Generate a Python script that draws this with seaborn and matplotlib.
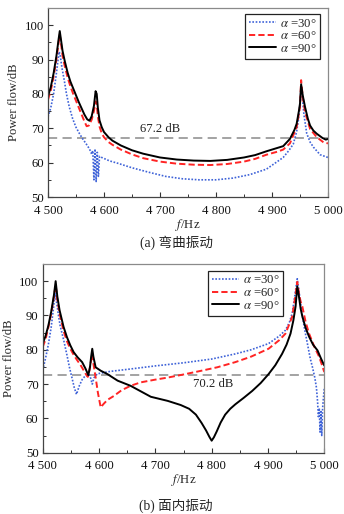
import numpy as np
import pandas as pd
import matplotlib
matplotlib.use("Agg")
import matplotlib.pyplot as plt
import seaborn as sns
from matplotlib.ticker import MultipleLocator, FuncFormatter

# ---------------- data ----------------
labels = ["$\\alpha$ =30°", "$\\alpha$ =60°", "$\\alpha$ =90°"]

# (a) bending vibration
a30_f = [4500, 4505, 4510, 4515, 4518, 4520, 4522, 4525, 4529, 4533, 4538, 4544, 4550, 4556,
         4562, 4568, 4574, 4578, 4580, 4582, 4584, 4586, 4588, 4590, 4592, 4596, 4610, 4625,
         4650, 4680, 4710, 4740, 4770, 4800, 4830, 4860, 4890, 4905, 4920, 4930, 4938, 4944,
         4947, 4950, 4952, 4954, 4957, 4962, 4968, 4974, 4986, 5000]
a30_v = [73.3, 76.0, 80.0, 86.0, 90.0, 92.3, 91.0, 87.5, 84.0, 80.0, 76.2, 72.8, 70.3, 68.5,
         66.9, 65.5, 64.0, 62.5, 63.5, 55.0, 64.0, 54.5, 63.0, 56.0, 61.8, 61.5, 60.5, 59.8,
         58.5, 57.2, 56.0, 55.3, 55.0, 55.0, 55.5, 56.5, 58.1, 59.8, 61.5, 63.5, 65.4, 69.0,
         72.3, 77.0, 82.0, 79.5, 74.0, 68.5, 66.0, 64.5, 62.3, 61.5]

a60_f = [4500, 4505, 4510, 4515, 4519, 4521, 4523, 4526, 4530, 4535, 4540, 4545, 4550, 4555,
         4560, 4565, 4569, 4573, 4578, 4582, 4585, 4587, 4589, 4592, 4596, 4600, 4608, 4615,
         4630, 4650, 4670, 4700, 4730, 4760, 4790, 4820, 4850, 4870, 4890, 4910, 4920, 4932,
         4944, 4950, 4952, 4955, 4959, 4968, 4980, 4992, 5000]
a60_v = [78.3, 81.0, 85.0, 90.0, 95.0, 97.2, 95.0, 91.0, 88.0, 84.8, 82.2, 80.0, 78.0, 76.0,
         74.0, 72.0, 70.6, 70.8, 72.5, 75.0, 77.8, 77.0, 73.5, 70.5, 68.5, 67.4, 66.0, 65.2,
         63.8, 62.4, 61.3, 60.3, 59.7, 59.4, 59.3, 59.6, 60.3, 61.1, 62.3, 63.2, 63.8, 65.6,
         70.3, 76.2, 84.0, 79.0, 74.7, 69.8, 67.4, 65.9, 65.6]

a90_f = [4500, 4505, 4510, 4515, 4519, 4521, 4523, 4526, 4530, 4535, 4540, 4545, 4550, 4555,
         4560, 4565, 4570, 4574, 4578, 4582, 4585, 4587, 4589, 4592, 4596, 4600, 4608, 4615,
         4630, 4650, 4670, 4700, 4730, 4760, 4790, 4820, 4850, 4870, 4890, 4900, 4920, 4932,
         4940, 4944, 4948, 4950, 4952, 4955, 4959, 4964, 4968, 4974, 4980, 4990, 4996, 5000]
a90_v = [79.3, 82.0, 86.0, 91.0, 96.0, 98.3, 96.0, 92.5, 89.5, 86.2, 83.6, 81.6, 79.6, 77.6,
         75.8, 74.0, 72.6, 72.2, 73.5, 76.5, 80.8, 80.0, 76.0, 72.3, 70.3, 68.9, 67.4, 66.4,
         65.0, 63.6, 62.6, 61.5, 60.9, 60.6, 60.5, 60.8, 61.5, 62.2, 63.3, 63.8, 64.8, 66.9,
         69.5, 71.3, 75.0, 77.2, 82.8, 79.5, 76.2, 72.8, 70.8, 69.3, 68.4, 67.2, 66.7, 66.9]

# (b) in-plane vibration
b30_f = [4500, 4505, 4510, 4515, 4519, 4522, 4525, 4528, 4531, 4537, 4543, 4548, 4552, 4556,
         4560, 4565, 4570, 4575, 4582, 4585, 4588, 4591, 4597, 4620, 4656, 4700, 4750, 4800,
         4842, 4870, 4901, 4920, 4931, 4938, 4943, 4947, 4950, 4952, 4955, 4958, 4961, 4965,
         4970, 4975, 4979, 4983, 4986, 4988, 4989.5, 4991, 4992.5, 4994, 4995.5, 4997, 5000]
b30_v = [74.0, 77.5, 81.5, 86.5, 92.0, 96.5, 93.5, 90.0, 87.0, 83.0, 78.5, 74.5, 71.8, 69.0,
         67.0, 69.5, 71.3, 72.3, 72.9, 71.8, 70.0, 71.8, 73.0, 73.7, 74.4, 75.3, 76.2, 77.3,
         78.8, 80.0, 81.8, 84.0, 85.7, 88.0, 90.6, 95.0, 98.5, 100.7, 97.0, 93.5, 90.0, 86.0,
         81.8, 77.5, 74.9, 72.0, 69.0, 65.0, 60.5, 63.0, 56.0, 62.0, 55.0, 63.0, 69.0]

b60_f = [4500, 4505, 4510, 4515, 4520, 4523, 4526, 4530, 4537, 4543, 4549, 4555, 4561, 4567,
         4572, 4577, 4580, 4583, 4586, 4588, 4590, 4594, 4598, 4603, 4608, 4615, 4626, 4640,
         4656, 4674, 4700, 4722, 4750, 4782, 4810, 4842, 4870, 4901, 4920, 4931, 4938, 4943,
         4948, 4952, 4955, 4958, 4961, 4967, 4973, 4982, 4991, 4996, 5000]
b60_v = [80.8, 83.0, 86.5, 90.5, 95.5, 99.0, 94.5, 90.5, 85.5, 82.5, 80.3, 78.5, 77.0, 75.6,
         74.2, 72.8, 72.1, 74.0, 77.0, 78.8, 76.0, 71.9, 67.5, 63.2, 64.2, 65.4, 66.5, 68.2,
         69.5, 70.5, 71.3, 71.9, 72.8, 73.9, 74.9, 76.4, 78.0, 80.3, 82.8, 84.7, 87.5, 89.7,
         95.0, 99.8, 96.5, 94.0, 92.6, 88.0, 84.7, 81.0, 77.9, 75.5, 73.5]

b90_f = [4500, 4505, 4510, 4515, 4520, 4523, 4526, 4530, 4537, 4543, 4549, 4555, 4562, 4570,
         4576, 4581, 4584, 4586, 4588, 4590, 4594, 4603, 4615, 4633, 4656, 4692, 4722, 4745,
         4760, 4772, 4782, 4790, 4796, 4800, 4804, 4809, 4816, 4824, 4833, 4842, 4857, 4872,
         4887, 4901, 4913, 4925, 4933, 4940, 4945, 4949, 4952, 4955, 4958, 4961, 4967, 4973,
         4980, 4988, 4994, 5000]
b90_v = [81.8, 84.0, 87.0, 91.0, 96.0, 100.0, 95.5, 91.5, 86.7, 83.7, 81.3, 79.3, 77.8, 76.4,
         74.5, 72.6, 75.0, 78.0, 80.3, 78.0, 74.9, 73.9, 72.9, 71.0, 69.5, 66.3, 65.1, 63.9,
         62.8, 61.1, 58.7, 56.5, 54.6, 53.5, 54.5, 56.2, 58.8, 61.1, 62.8, 64.1, 66.0, 68.0,
         70.3, 72.9, 75.5, 78.8, 81.5, 84.7, 88.5, 92.6, 98.5, 95.5, 92.0, 89.7, 86.3, 83.8,
         81.5, 79.8, 77.5, 75.4]

ref_a, ref_a_text = 67.2, "67.2 dB"
ref_b, ref_b_text = 72.6, "70.2 dB"
captions = ["(a) 弯曲振动", "(b) 面内振动"]
xticks = [4500, 4600, 4700, 4800, 4900, 5000]
yticks = [50, 60, 70, 80, 90, 100]

# ---------------- style ----------------
sns.set_theme(style="ticks")
plt.rcParams["font.family"] = ["Liberation Serif", "Noto Sans CJK SC"]
plt.rcParams["mathtext.fontset"] = "stix"
plt.rcParams["xtick.direction"] = "in"
plt.rcParams["ytick.direction"] = "in"

colors = ["#3f63d8", "#ff2424", "#000000"]
styles = [(0, (1, 1)), (0, (3.2, 1.6)), "-"]
widths = [1.2, 1.4, 1.4]
FS = 9.2

fig = plt.figure(figsize=(3.44, 5.14), dpi=100)
ax_a = fig.add_axes([48 / 344, 1 - 197 / 514, 280 / 344, 189 / 514])
ax_b = fig.add_axes([42.7 / 344, 1 - 452.7 / 514, 281.6 / 344, 188.7 / 514])

def fmt_thousands(v, pos):
    s = f"{int(round(v))}"
    if len(s) > 3:
        s = s[:-3] + " " + s[-3:]
    return s

def draw(ax, series, ref, ref_text, text_xy, leg_anchor):
    for (f, v), lab, c, ls, lw in zip(series, labels, colors, styles, widths):
        sns.lineplot(x=f, y=v, ax=ax, color=c, linestyle=ls, linewidth=lw,
                     label=lab, estimator=None, sort=False)
    ax.axhline(ref, color="#8a8a8a", linestyle=(0, (6, 3.5)), linewidth=1.1, zorder=0)
    ax.text(text_xy[0], text_xy[1], ref_text, ha="center", va="center", fontsize=FS,
            color="#222222")
    ax.set_xlim(4500, 5000)
    ax.set_ylim(50, 105)
    ax.set_xticks(xticks)
    ax.set_yticks(yticks)
    ax.xaxis.set_minor_locator(MultipleLocator(50))
    ax.yaxis.set_minor_locator(MultipleLocator(5))
    ax.xaxis.set_major_formatter(FuncFormatter(fmt_thousands))
    ax.tick_params(which="major", length=3.5, width=0.8, labelsize=FS,
                   colors="#333333", labelcolor="#111111", top=False, right=False)
    ax.tick_params(axis="x", which="major", pad=5.5)
    ax.tick_params(axis="y", which="major", pad=3)
    ax.tick_params(which="minor", length=2, width=0.7, colors="#333333", top=False, right=False)
    ax.set_xlabel("$f$/Hz", fontsize=FS, labelpad=0)
    ax.set_ylabel("Power flow/dB", fontsize=FS, labelpad=3)
    for side in ["left", "bottom"]:
        ax.spines[side].set_color("#444444")
        ax.spines[side].set_linewidth(0.9)
    for side in ["top", "right"]:
        ax.spines[side].set_visible(True)
        ax.spines[side].set_color("#8a8a8a")
        ax.spines[side].set_linewidth(0.9)
    leg = ax.legend(loc="upper left", bbox_to_anchor=leg_anchor, fontsize=FS,
                    frameon=True, fancybox=False, edgecolor="#222222", framealpha=1,
                    handlelength=2.1, handletextpad=0.3, labelspacing=0.05,
                    borderpad=0.3, borderaxespad=0)
    leg.get_frame().set_linewidth(0.9)

draw(ax_a, [(a30_f, a30_v), (a60_f, a60_v), (a90_f, a90_v)], ref_a, ref_a_text,
     (4700, 69.8), (0.705, 0.97))
draw(ax_b, [(b30_f, b30_v), (b60_f, b60_v), (b90_f, b90_v)], ref_b, ref_b_text,
     (4803, 70.0), (0.588, 0.965))

fig.text(176 / 344, 1 - 243 / 514, captions[0], ha="center", va="center", fontsize=9.8,
         family=["Liberation Serif", "Noto Sans CJK SC"])
fig.text(176 / 344, 1 - 506 / 514, captions[1], ha="center", va="center", fontsize=9.8,
         family=["Liberation Serif", "Noto Sans CJK SC"])

fig.savefig("out.png", dpi=100)
